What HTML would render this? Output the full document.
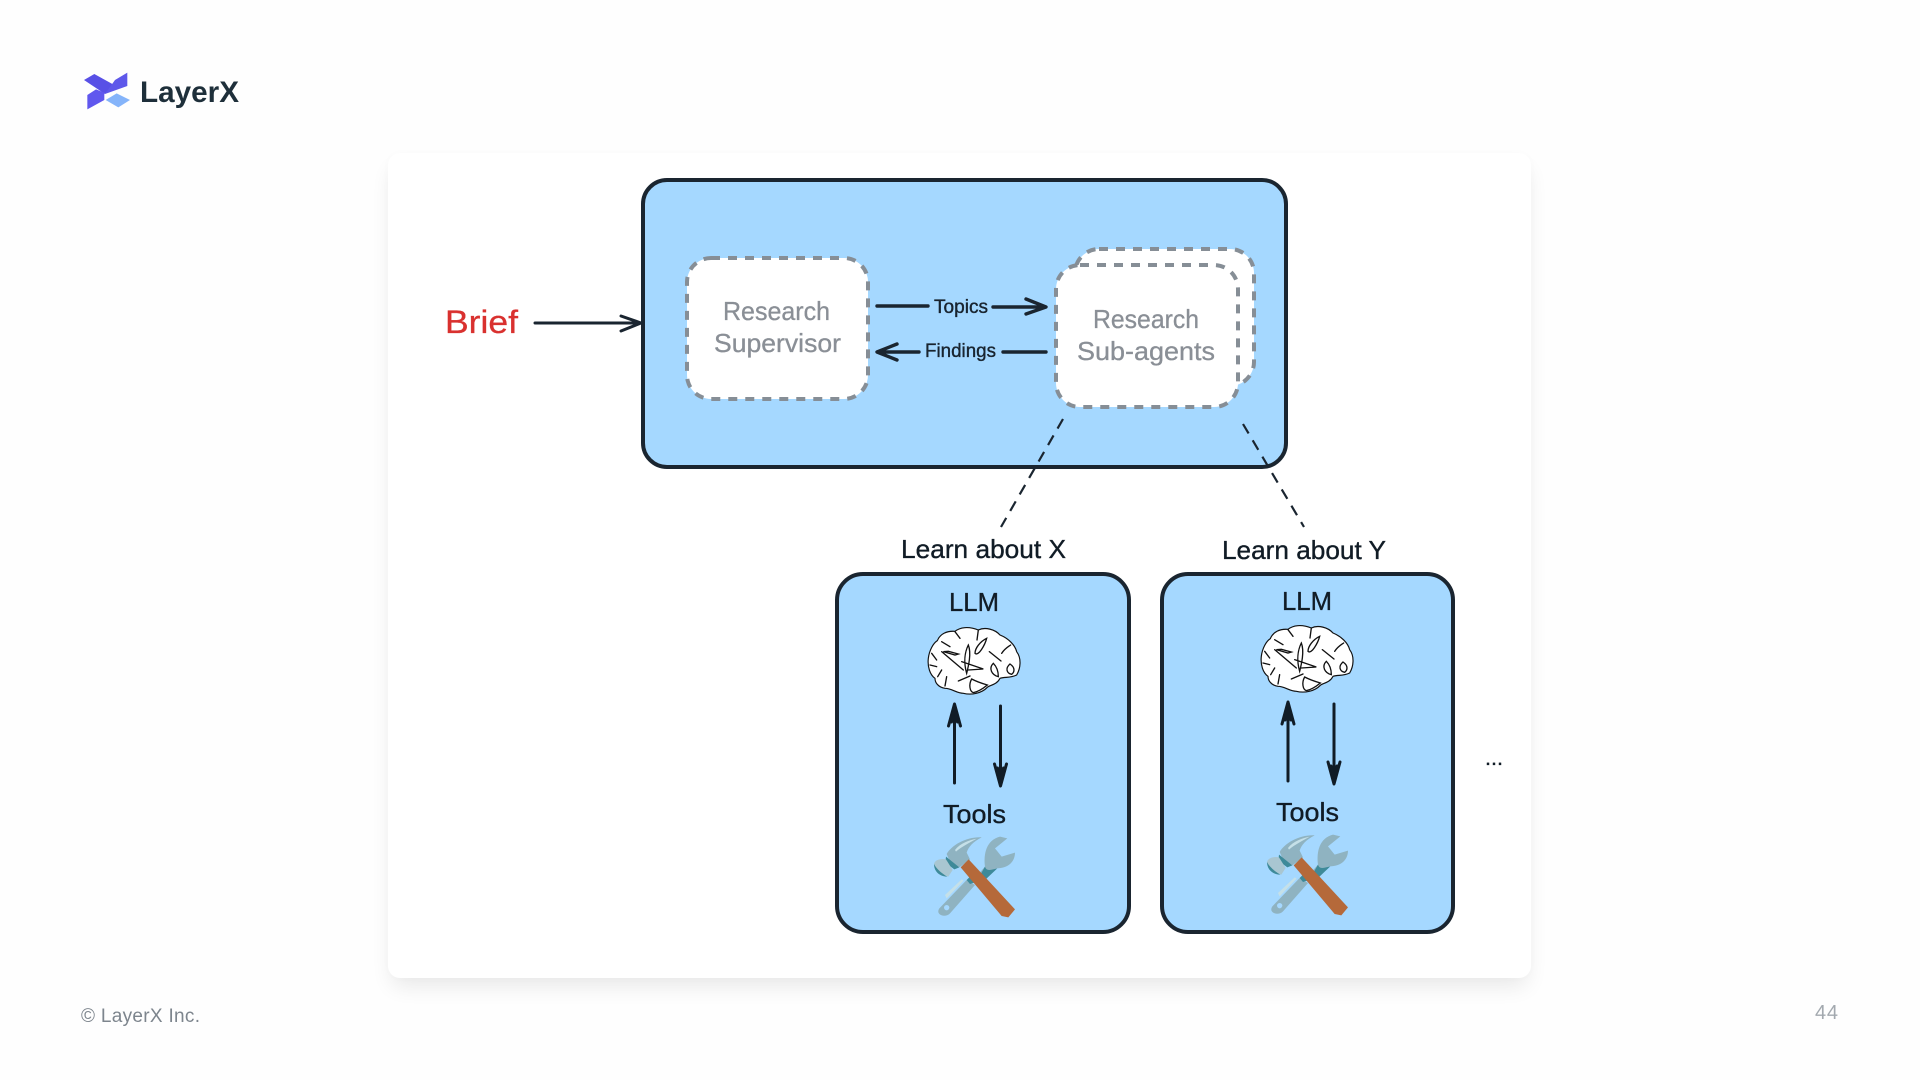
<!DOCTYPE html>
<html><head><meta charset="utf-8"><title>LayerX diagram</title>
<style>
html,body{margin:0;padding:0;background:#fefefe;width:1920px;height:1080px;overflow:hidden}
svg{display:block}
text{font-family:"Liberation Sans",sans-serif}
.card{position:absolute;left:388px;top:153px;width:1143px;height:825px;background:#fff;border-radius:12px;box-shadow:0 12px 22px -4px rgba(0,0,0,.09),0 0 10px rgba(0,0,0,.015)}
svg{position:absolute;left:0;top:0}
.d{stroke:#111c26;stroke-width:.35px}
</style></head><body>
<div class="card"></div>
<svg width="1920" height="1080" viewBox="0 0 1920 1080" xmlns="http://www.w3.org/2000/svg">
<defs>
<g id="brain">
<path d="M85 145C88 120 100 100 112 92C120 72 140 62 165 64C180 52 205 48 235 60C255 50 285 58 300 75C325 85 345 105 350 125C365 145 362 175 350 195C330 205 315 200 300 205C290 225 270 225 262 232C245 250 215 256 190 250C170 250 155 235 135 235C115 232 105 218 105 205C90 195 82 170 85 145Z" fill="#fff" stroke="#111" stroke-width="3.5"/>
<g fill="none" stroke="#111" stroke-width="4" stroke-linecap="round">
<path d="M125 125L190 180M130 125l35 10l10 -3l-30 -8zM125 95l25 15M165 65l15 20"/>
<path d="M205 105C195 125 190 155 200 190C205 170 215 130 205 105ZM185 155l65 22l-45 3"/>
<path d="M260 85C240 95 225 115 225 130C235 140 255 105 260 85ZM235 60l-4 30M268 125l35 28M305 130C315 115 325 110 332 105"/>
<path d="M280 160C265 175 275 195 295 200C295 185 290 170 280 160ZM330 162C315 175 320 190 335 193C345 185 345 172 330 162Z"/>
<path d="M175 213l35 -15M215 207C205 225 210 245 220 248C235 245 250 235 262 225C245 220 230 215 215 207Z"/>
<path d="M125 180l-12 20M140 200l-5 28M95 130l15 20M90 165l20 5"/>
</g>
</g>
<g id="tools">
<!-- wrench -->
<path d="M58 235L140 150L165 165L90 250C75 265 45 255 58 235Z" fill="#8fb3c1"/>
<path d="M75 195L125 148l6 4L80 205Z" fill="#c5e0e8"/>
<circle cx="80" cy="233" r="8" fill="#a5d8ff"/>
<path d="M160 150L195 110C190 70 200 30 240 20L262 25L225 55L245 80L285 68C285 95 265 115 230 115L195 150Z" fill="#8fb3c1"/>
<path d="M195 110C200 125 210 120 232 115L195 150L178 140Z" fill="#3e8a99"/>
<path d="M140 150l15 -15l10 22l-15 5Z" fill="#3e8a99"/>
<!-- hammer -->
<path d="M80 72C95 45 140 20 185 22C160 35 145 50 140 68L150 88L118 112L90 95L80 72Z" fill="#8fb3c1"/>
<path d="M105 60C120 40 150 30 170 26C150 38 125 50 108 65Z" fill="#c5e0e8"/>
<path d="M78 80L118 112L103 118L76 98Z" fill="#3e8a99"/>
<path d="M42 102C45 90 60 85 78 88L98 120L85 140C65 135 48 120 42 102Z" fill="#a9c6d1"/>
<path d="M42 102C50 118 68 132 82 140C60 140 42 125 42 102Z" fill="#3e8a99"/>
<path d="M122 112L146 88L285 238L265 262L245 258Z" fill="#b5693a"/>
</g>
</defs>

<!-- logo -->
<g transform="translate(60 50) scale(.3333)">
<path d="M72 90L103 72L168 108L135 132Z" fill="#5850e6"/>
<path d="M135 132L165 90L202 68L202 108Z" fill="#5e58ea"/>
<path d="M82 135L108 118L133 128V150L82 178Z" fill="#6057ee"/>
<path d="M137 150L170 130L210 150L175 172Z" fill="#85b4fa"/>
</g>
<text x="140" y="102" font-size="30" font-weight="700" fill="#1e2f3a" textLength="99" lengthAdjust="spacingAndGlyphs">LayerX</text>

<!-- main box -->
<rect x="643" y="180" width="643" height="287" rx="24" fill="#a5d8ff" stroke="#1a2530" stroke-width="4"/>

<!-- supervisor -->
<rect x="687" y="258" width="181" height="141" rx="24" fill="#fff" stroke="#868e96" stroke-width="4" stroke-dasharray="9 8"/>
<text x="723" y="320" font-size="26" fill="#8a8f96" stroke="#8a8f96" stroke-width=".3" textLength="107" lengthAdjust="spacingAndGlyphs">Research</text>
<text x="714" y="352" font-size="26" fill="#8a8f96" stroke="#8a8f96" stroke-width=".3" textLength="127" lengthAdjust="spacingAndGlyphs">Supervisor</text>

<!-- sub-agents -->
<rect x="1075" y="249" width="179" height="137" rx="24" fill="#fff" stroke="#868e96" stroke-width="4" stroke-dasharray="9 8"/>
<rect x="1056" y="265" width="182" height="142" rx="24" fill="#fff" stroke="#868e96" stroke-width="4" stroke-dasharray="9 8"/>
<text x="1093" y="328" font-size="26" fill="#8a8f96" stroke="#8a8f96" stroke-width=".3" textLength="106" lengthAdjust="spacingAndGlyphs">Research</text>
<text x="1077" y="360" font-size="26" fill="#8a8f96" stroke="#8a8f96" stroke-width=".3" textLength="138" lengthAdjust="spacingAndGlyphs">Sub-agents</text>

<!-- Brief -->
<text x="445" y="333" font-size="32" fill="#d9312f" stroke="#d9312f" stroke-width=".3" textLength="73" lengthAdjust="spacingAndGlyphs">Brief</text>
<g fill="none" stroke="#1a2530" stroke-width="3" stroke-linecap="round" stroke-linejoin="round">
<path d="M535 323H641M621 316L641 323L621 331"/>
</g>

<!-- topics / findings -->
<g fill="none" stroke="#1a2530" stroke-width="3.4" stroke-linecap="round" stroke-linejoin="round">
<path d="M877 306H928"/>
<path d="M993 307H1045M1026 299L1046 307L1026 314"/>
<path d="M1003 352H1046"/>
<path d="M919 352H878M897 344L877 352L897 360"/>
</g>
<text class="d" x="934" y="313" font-size="19" fill="#1a2530" textLength="54" lengthAdjust="spacingAndGlyphs">Topics</text>
<text class="d" x="925" y="357" font-size="19" fill="#1a2530" textLength="71" lengthAdjust="spacingAndGlyphs">Findings</text>

<!-- dashed connectors -->
<g fill="none" stroke="#1a2530" stroke-width="2.2" stroke-dasharray="11 8">
<path d="M1063 419L1001 527"/>
<path d="M1243 424L1304 527"/>
</g>
<text class="d" x="901" y="558" font-size="26" fill="#111c26" textLength="165" lengthAdjust="spacingAndGlyphs">Learn about X</text>
<text class="d" x="1222" y="559" font-size="26" fill="#111c26" textLength="164" lengthAdjust="spacingAndGlyphs">Learn about Y</text>

<!-- lower boxes -->
<rect x="837" y="574" width="292" height="358" rx="26" fill="#a5d8ff" stroke="#1a2530" stroke-width="4"/>
<rect x="1162" y="574" width="291" height="358" rx="26" fill="#a5d8ff" stroke="#1a2530" stroke-width="4"/>

<text class="d" x="949" y="611" font-size="26" fill="#111c26" textLength="50" lengthAdjust="spacingAndGlyphs">LLM</text>
<text class="d" x="1282" y="610" font-size="26" fill="#111c26" textLength="50" lengthAdjust="spacingAndGlyphs">LLM</text>
<text class="d" x="943" y="823" font-size="26" fill="#111c26" textLength="63" lengthAdjust="spacingAndGlyphs">Tools</text>
<text class="d" x="1276" y="821" font-size="26" fill="#111c26" textLength="63" lengthAdjust="spacingAndGlyphs">Tools</text>

<use href="#brain" transform="translate(900 610) scale(.3333)"/>
<use href="#brain" transform="translate(1233 608) scale(.3333)"/>
<use href="#tools" transform="translate(920 830) scale(.3333)"/>
<use href="#tools" transform="translate(1253 828) scale(.3333)"/>

<g fill="none" stroke="#111c26" stroke-width="3" stroke-linecap="round" stroke-linejoin="round">
<path d="M954.5 783V705M948.5 726L954.5 704L960.5 726"/>
<path d="M954.5 708l-3 14M954.5 708l3 14"/>
<path d="M1000.5 706V785M994.5 764L1000.5 786L1006.5 764"/>
<path d="M1000.5 782l-3 -14M1000.5 782l3 -14"/>
<path d="M1288 781V703M1282 724L1288 702L1294 724"/>
<path d="M1288 706l-3 14M1288 706l3 14"/>
<path d="M1334 704V783M1328 762L1334 784L1340 762"/>
<path d="M1334 780l-3 -14M1334 780l3 -14"/>
</g>
<text class="d" x="1485" y="765" font-size="20" fill="#111c26" textLength="18" lengthAdjust="spacingAndGlyphs">...</text>

<!-- footer -->
<text x="81" y="1022" font-size="19" fill="#7d858d" textLength="119">© LayerX Inc.</text>
<text x="1815" y="1019" font-size="20" fill="#a3a9af" textLength="23">44</text>
</svg>
</body></html>
